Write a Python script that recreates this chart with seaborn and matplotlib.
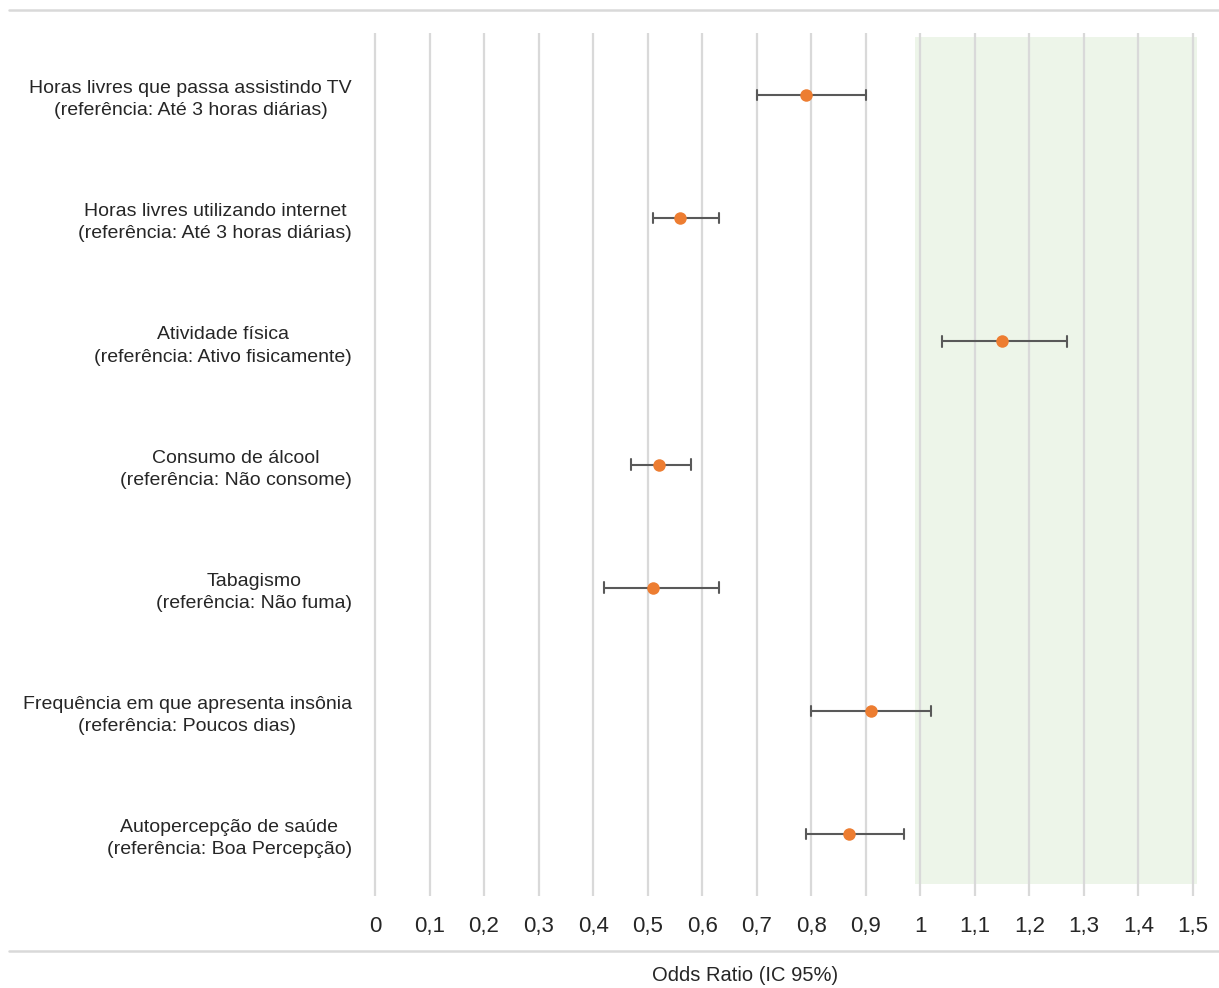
import matplotlib.pyplot as plt
import seaborn as sns
import pandas as pd
from matplotlib import font_manager
from matplotlib.lines import Line2D
sns.set_style('white')

labels = [
    'Horas livres que passa assistindo TV\n(referência: Até 3 horas diárias)',
    'Horas livres utilizando internet\n(referência: Até 3 horas diárias)',
    'Atividade física\n(referência: Ativo fisicamente)',
    'Consumo de álcool\n(referência: Não consome)',
    'Tabagismo\n(referência: Não fuma)',
    'Frequência em que apresenta insônia\n(referência: Poucos dias)',
    'Autopercepção de saúde\n(referência: Boa Percepção)',
]
odds_ratio = [0.79, 0.56, 1.15, 0.52, 0.51, 0.91, 0.87]
ci_lower = [0.70, 0.51, 1.04, 0.47, 0.42, 0.80, 0.79]
ci_upper = [0.90, 0.63, 1.27, 0.58, 0.63, 1.02, 0.97]
xticks = [i / 10 for i in range(16)]
xtick_labels = ['0', '0,1', '0,2', '0,3', '0,4', '0,5', '0,6', '0,7', '0,8',
                '0,9', '1', '1,1', '1,2', '1,3', '1,4', '1,5']

installed = {f.name for f in font_manager.fontManager.ttflist}
if 'Liberation Sans Narrow' in installed:
    plt.rcParams['font.family'] = ['Liberation Sans Narrow', 'DejaVu Sans']
    label_size, tick_size, title_size = 16, 17, 16
else:
    plt.rcParams['font.family'] = ['Liberation Sans', 'DejaVu Sans']
    label_size, tick_size, title_size = 14, 16, 14.5

text_color = '#262626'
grid_color = '#d9d9d9'

# long format: lower, estimate, upper for each row -> median is the OR,
# 100% percentile interval is the CI
df = pd.DataFrame({
    'label': labels * 3,
    'value': ci_lower + odds_ratio + ci_upper,
})

fig = plt.figure(figsize=(12.19, 9.88), dpi=100)
ax = fig.add_axes([372.8 / 1219, 0.0935, 831 / 1219, 0.8727])

ax.axvspan(0.99, 1.508, ymin=0.013, ymax=0.996, color='#edf5e9',
           zorder=0, lw=0)

sns.pointplot(data=df, x='value', y='label', order=labels,
              estimator='median', errorbar=('pi', 100), ax=ax,
              color='#ed7d31', linestyle='none', marker='o',
              markersize=9, markeredgewidth=0, capsize=0.085,
              err_kws={'color': '#595959', 'linewidth': 1.5})

for line in ax.lines:
    if line.get_marker() not in (None, 'None', '', ' '):
        line.set_zorder(5)

ax.set_xlim(-0.004, 1.52)
ax.set_ylim(6.5, -0.5)
ax.set_xticks(xticks)
ax.set_xticklabels(xtick_labels)
ax.grid(axis='x', color=grid_color, linewidth=1.6)
ax.grid(axis='y', visible=False)
ax.set_axisbelow(True)
for spine in ax.spines.values():
    spine.set_visible(False)
ax.tick_params(axis='x', length=0, pad=15, labelsize=tick_size,
               labelcolor=text_color)
ax.tick_params(axis='y', length=0, pad=15, labelsize=label_size,
               labelcolor=text_color)
for lbl in ax.get_yticklabels():
    lbl.set_multialignment('center')
    lbl.set_linespacing(1.4)
ax.set_xlabel('')
ax.set_ylabel('')

fig.text(745 / 1219, 0.013, 'Odds Ratio (IC 95%)', ha='center',
         va='center', fontsize=title_size, color=text_color)

fig.add_artist(Line2D([9 / 1219, 1], [1 - 10 / 988, 1 - 10 / 988],
                      color=grid_color, linewidth=1.8,
                      transform=fig.transFigure))
fig.add_artist(Line2D([9 / 1219, 1], [1 - 951 / 988, 1 - 951 / 988],
                      color=grid_color, linewidth=1.8,
                      transform=fig.transFigure))

fig.savefig('out.png', dpi=100)
plt.close('all')
